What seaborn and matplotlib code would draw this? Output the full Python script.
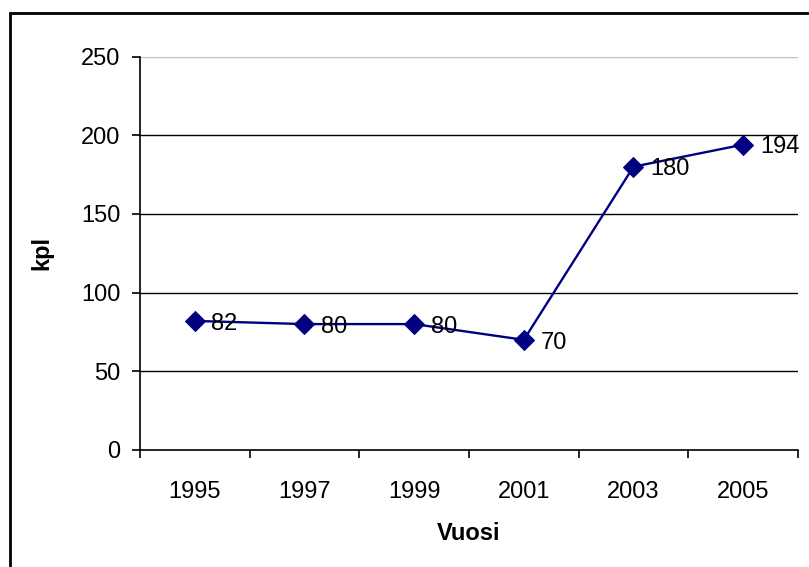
import matplotlib
matplotlib.use("Agg")
import matplotlib.pyplot as plt
from matplotlib.patches import Rectangle
from matplotlib.ticker import FixedLocator, NullFormatter
import numpy as np
import pandas as pd
import seaborn as sns

years = ["1995", "1997", "1999", "2001", "2003", "2005"]
kpl = [82, 80, 80, 70, 180, 194]
y_ticks = [0, 50, 100, 150, 200, 250]

sns.set_theme(style="white")
plt.rcParams["font.family"] = ["Liberation Sans", "DejaVu Sans"]
plt.rcParams["text.color"] = "black"
plt.rcParams["axes.labelcolor"] = "black"
plt.rcParams["xtick.color"] = "black"
plt.rcParams["ytick.color"] = "black"

FS = 17

df = pd.DataFrame({"Vuosi": years, "kpl": kpl})
df["pos"] = np.arange(len(years))

fig = plt.figure(figsize=(8.09, 5.67), dpi=100)
ax = fig.add_axes([140 / 809, 1 - 450 / 567, 658 / 809, 393.5 / 567])

# horizontal gridlines: top one light grey, the rest black
for v in y_ticks[1:]:
    ax.axhline(v, color="#c0c0c0" if v == y_ticks[-1] else "black",
               lw=1.0, zorder=0)

sns.lineplot(data=df, x="pos", y="kpl", ax=ax, color="#000080", lw=1.7,
             marker="D", markersize=10.5, markeredgecolor="#000080", zorder=3)

for xi, yi in zip(df["pos"], df["kpl"]):
    ax.annotate(str(yi), (xi, yi), xytext=(12, -2), textcoords="offset points",
                ha="left", va="center", fontsize=FS, color="black", zorder=4)

ax.set_xlim(-0.5, len(years) - 0.5)
ax.set_ylim(0, 250)
ax.set_yticks(y_ticks)
ax.set_xticks(df["pos"])
ax.set_xticklabels(years)
ax.xaxis.set_minor_locator(FixedLocator(np.arange(-0.5, len(years), 1.0)))
ax.xaxis.set_minor_formatter(NullFormatter())
ax.tick_params(axis="x", which="major", length=0, pad=22, labelsize=FS)
ax.tick_params(axis="x", which="minor", length=6, width=1.2, color="black",
               direction="out", bottom=True)
ax.tick_params(axis="y", length=6, width=1.2, color="black", direction="out",
               left=True, pad=8, labelsize=FS)

for side in ["top", "right"]:
    ax.spines[side].set_visible(False)
for side in ["left", "bottom"]:
    ax.spines[side].set_color("black")
    ax.spines[side].set_linewidth(1.2)

ax.set_xlabel("Vuosi", fontsize=FS, fontweight="bold", labelpad=14)
ax.set_ylabel("kpl", fontsize=FS, fontweight="bold", labelpad=20)

# chart-area frame
fig.patches.append(Rectangle((10 / 809, -0.1), 1.2, 1 - 13 / 567 + 0.1,
                             transform=fig.transFigure, fill=False,
                             edgecolor="black", lw=2.0))

fig.savefig("out.png", dpi=100)
